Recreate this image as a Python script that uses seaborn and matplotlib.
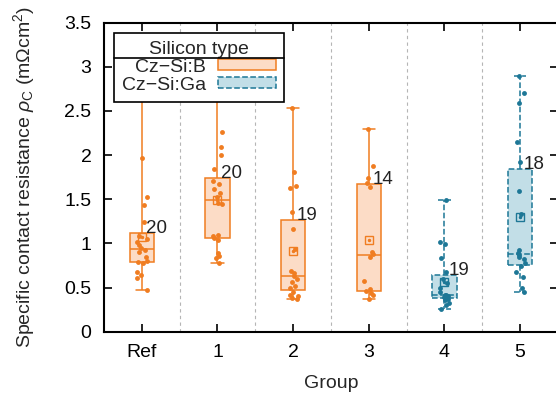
import numpy as np
import pandas as pd
import matplotlib
matplotlib.use('Agg')
import matplotlib.pyplot as plt
import seaborn as sns
from matplotlib.patches import Patch
from matplotlib.lines import Line2D

# values (mOhm cm^2)
groups = ['Ref', '1', '2', '3', '4', '5']
silicon = ['Cz−Si:B', 'Cz−Si:B', 'Cz−Si:B', 'Cz−Si:B', 'Cz−Si:Ga', 'Cz−Si:Ga']
rho_ref = [2.67, 1.97, 1.52, 1.43, 1.24, 1.08, 1.05, 1.02, 0.98, 0.95,
           0.93, 0.90, 0.85, 0.80, 0.79, 0.78, 0.68, 0.64, 0.61, 0.47]
rho_g1 = [3.00, 2.26, 2.09, 2.00, 1.84, 1.71, 1.67, 1.61, 1.57, 1.52,
          1.46, 1.44, 1.10, 1.08, 1.06, 1.04, 0.89, 0.86, 0.83, 0.78]
rho_g2 = [2.53, 1.81, 1.65, 1.63, 1.36, 1.16, 0.94, 0.69, 0.66, 0.63,
          0.60, 0.56, 0.52, 0.49, 0.45, 0.42, 0.40, 0.38, 0.37]
rho_g3 = [2.29, 1.87, 1.74, 1.68, 1.64, 0.90, 0.88, 0.85, 0.57, 0.48,
          0.46, 0.44, 0.42, 0.37]
rho_g4 = [1.49, 1.01, 0.99, 0.83, 0.68, 0.60, 0.55, 0.50, 0.45, 0.42,
          0.41, 0.40, 0.40, 0.39, 0.37, 0.36, 0.33, 0.30, 0.26]
rho_g5 = [2.90, 2.70, 2.59, 2.15, 1.92, 1.59, 1.33, 0.93, 0.89, 0.87,
          0.85, 0.82, 0.78, 0.74, 0.68, 0.62, 0.50, 0.45]
all_rho = [rho_ref, rho_g1, rho_g2, rho_g3, rho_g4, rho_g5]

rows = []
for g, si, vals in zip(groups, silicon, all_rho):
    for v in vals:
        rows.append((g, si, v))
df = pd.DataFrame(rows, columns=['group', 'silicon', 'rho'])

styles = {
    'Cz−Si:B': dict(edge='#F07D21', fill='#FCDCC6', ls='-'),
    'Cz−Si:Ga': dict(edge='#1D7796', fill='#C2DEE7', ls='--'),
}

sns.set_style('ticks')
plt.rcParams['font.family'] = ['Liberation Sans', 'DejaVu Sans']
plt.rcParams['mathtext.fontset'] = 'custom'
plt.rcParams['mathtext.rm'] = 'Liberation Sans'
plt.rcParams['mathtext.it'] = 'Liberation Sans:italic'

fig = plt.figure(figsize=(5.56, 3.94), dpi=100)
ax = fig.add_axes([104/556, 62.3/394, 454/556, 309.2/394])

for x in np.arange(0.5, 5.0, 1.0):
    ax.axvline(x, color='#b5b5b5', ls=(0, (3, 3)), lw=0.8, zorder=0)

np.random.seed(4)
for si, st in styles.items():
    sub = df[df['silicon'] == si]
    ls = st['ls']
    sns.boxplot(data=sub, x='group', y='rho', order=groups, color=st['fill'],
                saturation=1, linecolor=st['edge'], linewidth=1.1, width=0.32,
                whis=(0, 100), showfliers=False, showmeans=True,
                meanprops=dict(marker='s', markerfacecolor='none',
                               markeredgecolor=st['edge'], markersize=6,
                               markeredgewidth=1.0),
                boxprops=dict(linestyle=ls), whiskerprops=dict(linestyle=ls),
                capprops=dict(linestyle=ls), medianprops=dict(linestyle=ls),
                ax=ax)
    sns.stripplot(data=sub, x='group', y='rho', order=groups, color=st['edge'],
                  size=3.5, jitter=0.07, linewidth=0, ax=ax)

# mean centre dots and sample counts
for i, vals in enumerate(all_rho):
    c = styles[silicon[i]]['edge']
    ax.plot(i, np.mean(vals), 'o', ms=1.5, color=c, zorder=5)
    ax.text(i + 0.05, np.percentile(vals, 75), str(len(vals)),
            ha='left', va='baseline', fontsize=13.5, color='#222222')

ax.set_xlim(-0.5, 5.5)
ax.set_ylim(0, 3.5)
yt = np.arange(0, 3.51, 0.5)
ax.set_yticks(yt)
ax.set_yticklabels([f'{v:g}' for v in yt])
ax.tick_params(direction='in', top=True, right=True, length=6, width=1.2,
               labelsize=14, colors='black', pad=9)
for s in ax.spines.values():
    s.set_linewidth(1.5)
    s.set_color('black')
ax.set_xlabel('Group', fontsize=14, labelpad=10)
ax.set_ylabel(r'Specific contact resistance $\rho_{\mathrm{C}}$ (mΩcm$^2$)',
              fontsize=14, labelpad=20)

handles = [Patch(facecolor=st['fill'], edgecolor=st['edge'], lw=1.1, ls=st['ls'])
           for st in styles.values()]
leg = ax.legend(handles, list(styles.keys()), title='Silicon type',
                loc='upper left', bbox_to_anchor=(10/454, 1 - 10.5/309.2),
                borderaxespad=0, markerfirst=False, fancybox=False,
                edgecolor='black', framealpha=1, handlelength=3.0,
                handleheight=0.5, handletextpad=0.6, labelspacing=0.05,
                borderpad=0.4, fontsize=14, title_fontsize=14)
leg.get_frame().set_linewidth(1.2)

# line under the legend title, between title and first entry
fig.canvas.draw()
r = fig.canvas.get_renderer()
lb = leg.get_window_extent(r)
tb = leg.get_title().get_window_extent(r)
t0 = leg.get_texts()[0].get_window_extent(r)
ysep = 0.5 * (tb.y0 + t0.y1)
inv = fig.transFigure.inverted()
(x0, y0), (x1, _) = inv.transform([(lb.x0, ysep), (lb.x1, ysep)])
fig.add_artist(Line2D([x0, x1], [y0, y0], color='black', lw=1.2,
                      transform=fig.transFigure, zorder=10))

fig.savefig('out.png', dpi=100)
